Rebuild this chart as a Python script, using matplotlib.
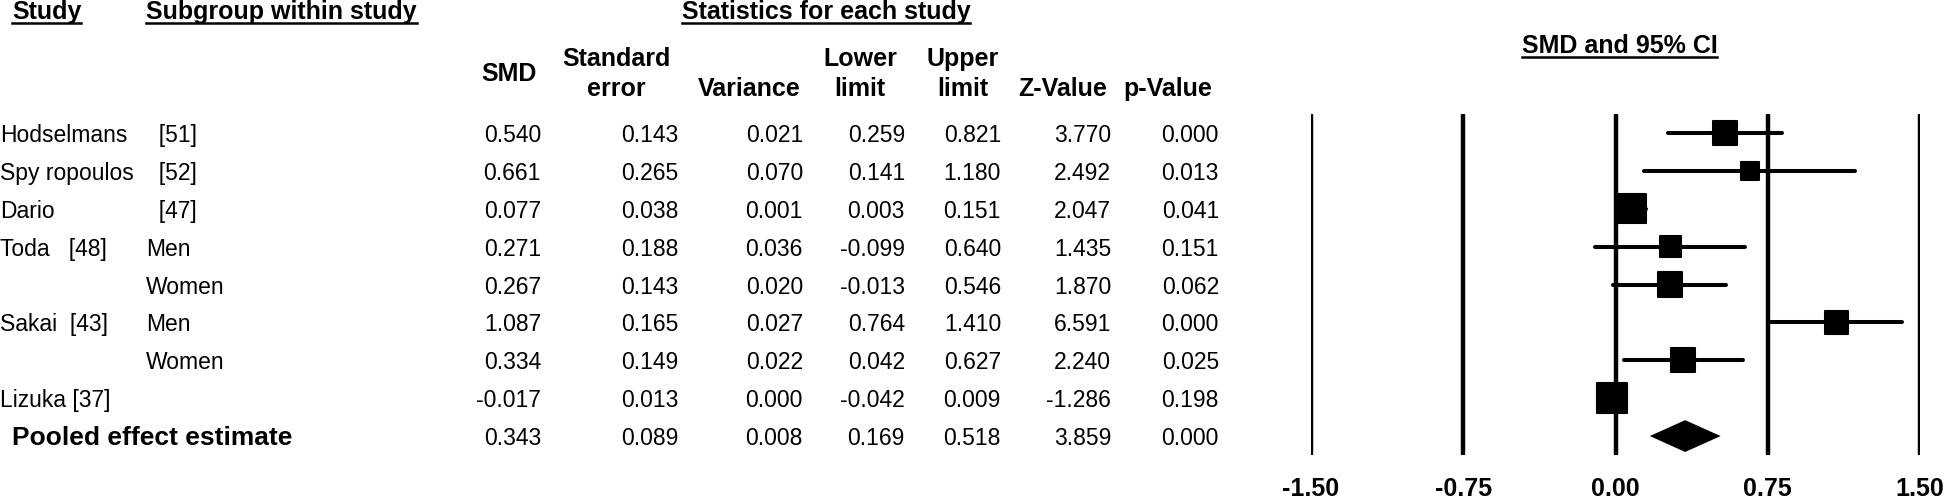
import numpy as np
import matplotlib.pyplot as plt
from matplotlib.lines import Line2D
from matplotlib.transforms import blended_transform_factory, offset_copy, IdentityTransform

studies = ["Hodselmans", "Spy ropoulos", "Dario", "Toda   [48]", "", "Sakai  [43]", "", "Lizuka [37]"]
subgroups = ["  [51]", "  [52]", "  [47]", "Men", "Women", "Men", "Women", ""]
smd = [0.540, 0.661, 0.077, 0.271, 0.267, 1.087, 0.334, -0.017]
std_err = [0.143, 0.265, 0.038, 0.188, 0.143, 0.165, 0.149, 0.013]
variance = [0.021, 0.070, 0.001, 0.036, 0.020, 0.027, 0.022, 0.000]
lower = [0.259, 0.141, 0.003, -0.099, -0.013, 0.764, 0.042, -0.042]
upper = [0.821, 1.180, 0.151, 0.640, 0.546, 1.410, 0.627, 0.009]
z_value = [3.770, 2.492, 2.047, 1.435, 1.870, 6.591, 2.240, -1.286]
p_value = [0.000, 0.013, 0.041, 0.151, 0.062, 0.000, 0.025, 0.198]

pooled_label = "Pooled effect estimate"
pooled = [0.343, 0.089, 0.008, 0.169, 0.518, 3.859, 0.000]
tau2 = 0.045  # between-study variance used for the box weights

col_heads = [("SMD",), ("Standard", "error"), ("Variance",), ("Lower", "limit"),
             ("Upper", "limit"), ("Z-Value",), ("p-Value",)]
ticks = [-1.50, -0.75, 0.00, 0.75, 1.50]

W, H = 1946, 499
plt.rcParams["font.family"] = "Liberation Sans"
fs = 16.5  # regular text
fb = 18    # bold headers

fig = plt.figure(figsize=(W / 100, H / 100), dpi=100)

# forest plot panel
ax = fig.add_axes([1311 / W, 44 / H, 609 / W, 341 / H])
rows = np.arange(len(smd))
pooled_row = len(smd)
ax.set_xlim(ticks[0], ticks[-1])
ax.set_ylim(pooled_row + 0.5, -0.5)
for s in ax.spines.values():
    s.set_visible(False)
ax.set_yticks([])
ax.set_xticks(ticks)
ax.set_xticklabels([f"{t:.2f}" for t in ticks], fontsize=fb, fontweight="bold")
ax.tick_params(axis="x", length=0, pad=16)

for t in ticks:
    ax.axvline(t, ymin=0.004, ymax=0.996, color="black", lw=3.2, solid_capstyle="round")

ci = ax.hlines(rows, lower, upper, color="black", lw=2.9)
ci.set_capstyle("round")

weights = 1 / (np.array(std_err) ** 2 + tau2)
side_pt = 6.7 * np.sqrt(weights) * 72 / 100 - 1.5
boxes = ax.scatter(smd, rows, s=side_pt ** 2, marker="s", color="black",
                   edgecolors="black", linewidths=1.5, zorder=3)
boxes.set_joinstyle("round")

est, lo, hi = pooled[0], pooled[3], pooled[4]
ax.fill([lo, est, hi, est], [pooled_row, pooled_row - 0.42, pooled_row, pooled_row + 0.42],
        color="black", lw=0, zorder=3)


# table text
def fx(px):
    return px / W


def fy(px):
    return 1 - px / H


row_tr = offset_copy(blended_transform_factory(fig.transFigure, ax.transData),
                     fig=fig, y=-9, units="dots")

for i in rows:
    fig.text(fx(0), i, studies[i], transform=row_tr, fontsize=fs, va="baseline")
    fig.text(fx(146), i, subgroups[i], transform=row_tr, fontsize=fs, va="baseline")
fig.text(fx(12), pooled_row, pooled_label, transform=row_tr, fontsize=19,
         fontweight="bold", va="baseline")

num_right = [541, 678, 803, 905, 1001, 1111, 1219]
columns = [smd, std_err, variance, lower, upper, z_value, p_value]
for c, vals in enumerate(columns):
    for i in rows:
        fig.text(fx(num_right[c]), i, f"{vals[i]:.3f}", transform=row_tr,
                 fontsize=fs, ha="right", va="baseline")
    fig.text(fx(num_right[c]), pooled_row, f"{pooled[c]:.3f}", transform=row_tr,
             fontsize=fs, ha="right", va="baseline")

head_x = [509, 616, 749, 860, 963, 1063, 1168]
for c, head in enumerate(col_heads):
    if len(head) == 2:
        lines = [(head[0], 66), (head[1], 96)]
    elif c == 0:
        lines = [(head[0], 81)]
    else:
        lines = [(head[0], 96)]
    for txt, y in lines:
        fig.text(fx(head_x[c]), fy(y), txt, fontsize=fb, fontweight="bold",
                 ha="center", va="baseline")

underlined = [
    fig.text(fx(12), fy(19), "Study", fontsize=fb, fontweight="bold", va="baseline"),
    fig.text(fx(146), fy(19), "Subgroup within study", fontsize=fb, fontweight="bold", va="baseline"),
    fig.text(fx(826), fy(19), "Statistics for each study", fontsize=fb, fontweight="bold",
             ha="center", va="baseline"),
    fig.text(0.02, fy(53), "SMD and 95% CI", fontsize=fb, fontweight="bold", ha="center",
             va="baseline", transform=blended_transform_factory(ax.transData, fig.transFigure)),
]

fig.canvas.draw()
renderer = fig.canvas.get_renderer()
for t in underlined:
    bb = t.get_window_extent(renderer)
    base_y = t.get_transform().transform(t.get_position())[1]
    fig.add_artist(Line2D([bb.x0, bb.x1], [base_y - 4, base_y - 4], color="black",
                          lw=1.8, transform=IdentityTransform()))

fig.savefig("out.png", dpi=100)
